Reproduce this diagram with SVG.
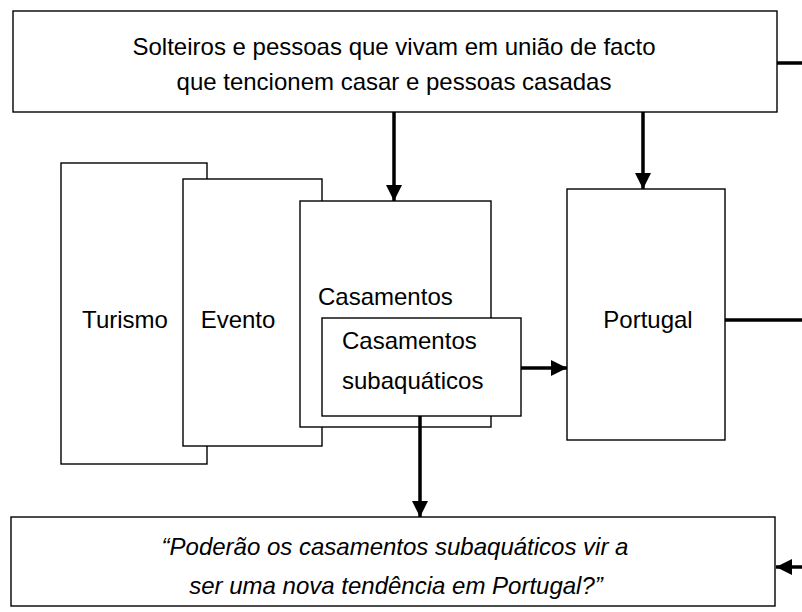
<svg xmlns="http://www.w3.org/2000/svg" width="802" height="612" viewBox="0 0 802 612">
<style>
.box{fill:#fff;stroke:#000;stroke-width:1.4}
.t{font-family:"Liberation Sans",Arial,sans-serif;font-size:24px;fill:#000}
.c{text-anchor:middle}
.i{font-style:italic}
.ln{stroke:#000;stroke-width:3.5;fill:none}
</style>
<defs>
<marker id="ah" markerUnits="userSpaceOnUse" markerWidth="16" markerHeight="16" refX="16" refY="8" orient="auto">
<path d="M0,0 L16,8 L0,16 z" fill="#000"/>
</marker>
</defs>
<g id="top">
<rect class="box" x="13" y="11" width="764" height="101"/>
<text class="t c" x="394" y="55">Solteiros e pessoas que vivam em união de facto</text>
<text class="t c" x="394" y="90">que tencionem casar e pessoas casadas</text>
</g>
<g id="turismo">
<rect class="box" x="61" y="163" width="146" height="301"/>
<text class="t c" x="125" y="328">Turismo</text>
</g>
<g id="evento">
<rect class="box" x="183" y="179" width="139" height="267"/>
<text class="t c" x="238" y="328">Evento</text>
</g>
<g id="casamentos">
<rect class="box" x="300" y="201" width="191" height="226"/>
<text class="t" x="318" y="305">Casamentos</text>
</g>
<g id="subaquaticos">
<rect class="box" x="322" y="318" width="199" height="98"/>
<text class="t" x="342" y="349">Casamentos</text>
<text class="t" x="342" y="389">subaquáticos</text>
</g>
<g id="portugal">
<rect class="box" x="567" y="189" width="158" height="251"/>
<text class="t c" x="648" y="328">Portugal</text>
</g>
<g id="pergunta">
<rect class="box" x="11" y="517" width="764" height="89"/>
<text class="t c i" x="395" y="555">“Poderão os casamentos subaquáticos vir a</text>
<text class="t c i" x="396" y="594">ser uma nova tendência em Portugal?”</text>
</g>
<g id="connectors">
<line class="ln" x1="394" y1="112" x2="394" y2="201" marker-end="url(#ah)"/>
<line class="ln" x1="643" y1="112" x2="643" y2="189" marker-end="url(#ah)"/>
<line class="ln" x1="521" y1="368" x2="567" y2="368" marker-end="url(#ah)"/>
<line class="ln" x1="420" y1="416" x2="420" y2="517" marker-end="url(#ah)"/>
<line class="ln" x1="777" y1="63" x2="802" y2="63"/>
<line class="ln" x1="725" y1="320" x2="802" y2="320"/>
<line class="ln" x1="802" y1="567" x2="776" y2="567" marker-end="url(#ah)"/>
</g>
</svg>
